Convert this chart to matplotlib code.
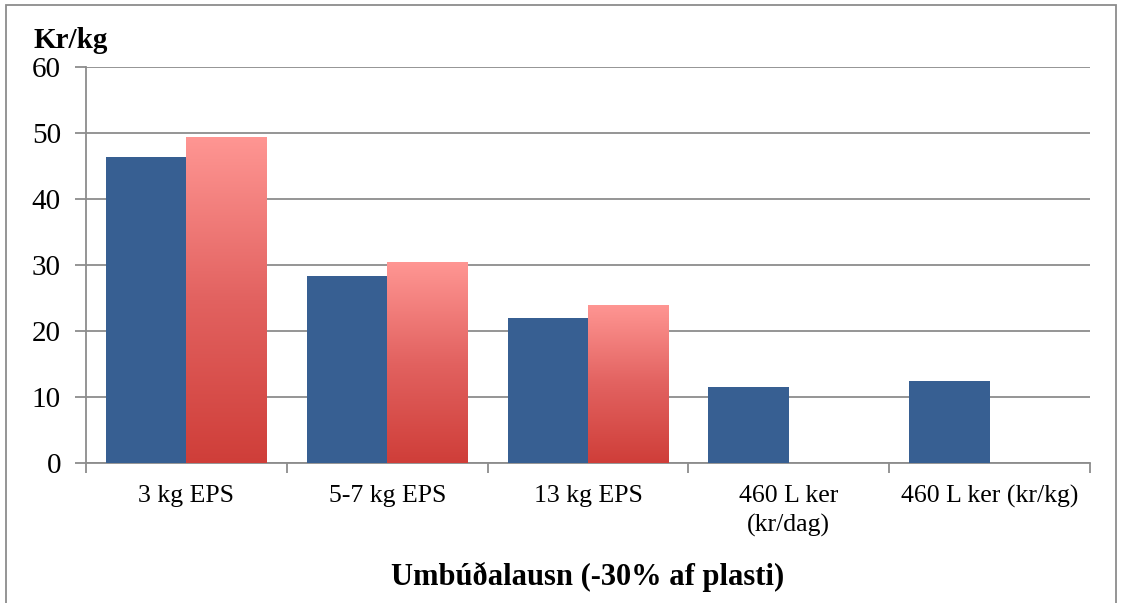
import numpy as np
import matplotlib
matplotlib.use('Agg')
from matplotlib import pyplot as plt
from matplotlib.colors import LinearSegmentedColormap
from matplotlib.patches import Rectangle

# gögn lesin af myndinni
categories = ['3 kg EPS', '5-7 kg EPS', '13 kg EPS', '460 L ker\n(kr/dag)', '460 L ker (kr/kg)']
blue_vals = [46.3, 28.4, 21.9, 11.5, 12.4]
pink_vals = [49.4, 30.45, 24.0, None, None]
yticks = [0, 10, 20, 30, 40, 50, 60]

plt.rcParams['font.family'] = ['Liberation Serif', 'DejaVu Serif']

W, H = 1122, 603
fig = plt.figure(figsize=(W / 100, H / 100), dpi=100)
ax = fig.add_axes([86 / W, 1 - 463 / H, (1090 - 86) / W, (463 - 67) / H])

grey = '#8c8c8c'
blue = '#375f92'
grad = LinearSegmentedColormap.from_list('pink', ['#cf3e39', '#e26260', '#ff9693'])

x = np.arange(len(categories))
w = 0.4
ax.bar(x - w / 2, blue_vals, width=w, color=blue, zorder=3)

for i, v in enumerate(pink_vals):
    if v is None:
        continue
    x0 = i + 0.0
    rect = Rectangle((x0, 0), w, v, facecolor='none', edgecolor='none', zorder=3)
    ax.add_patch(rect)
    g = np.linspace(0, 1, 256).reshape(-1, 1)
    im = ax.imshow(g, extent=[x0, x0 + w, 0, v], origin='lower', aspect='auto',
                   cmap=grad, zorder=3)
    im.set_clip_path(rect)

ax.set_xlim(-0.5, len(categories) - 0.5)
ax.set_ylim(0, 60)
ax.set_aspect('auto')

# rúðunet og ásar
ax.set_yticks(yticks)
ax.set_yticklabels([str(t) for t in yticks], fontsize=21)
ax.yaxis.grid(True, color=grey, linewidth=1.3, zorder=0)
ax.set_axisbelow(True)

ax.set_xticks(np.arange(len(categories) + 1) - 0.5)
ax.set_xticklabels([])
ax.set_xticks(x, minor=True)
ax.set_xticklabels(categories, minor=True, fontsize=18.5, linespacing=1.4)
ax.tick_params(axis='x', which='minor', length=0, pad=16)
ax.tick_params(axis='x', which='major', length=7, width=1.3, color=grey)
ax.tick_params(axis='y', length=8, width=1.3, color=grey, pad=10)

for s in ['top', 'right']:
    ax.spines[s].set_visible(False)
for s in ['left', 'bottom']:
    ax.spines[s].set_color(grey)
    ax.spines[s].set_linewidth(1.3)

fig.text(33 / W, 1 - 40 / H, 'Kr/kg', fontsize=21, fontweight='bold', va='center', ha='left')
fig.text(588 / W, 1 - 577 / H, 'Umbúðalausn (-30% af plasti)', fontsize=22,
         fontweight='bold', va='center', ha='center')

# rammi utan um myndina
fig.patches.append(Rectangle((6 / W, -0.01), (1116 - 6) / W, (H - 5) / H + 0.01,
                             transform=fig.transFigure, fill=False,
                             edgecolor=grey, linewidth=1.3))

fig.savefig('out.png', dpi=100)
